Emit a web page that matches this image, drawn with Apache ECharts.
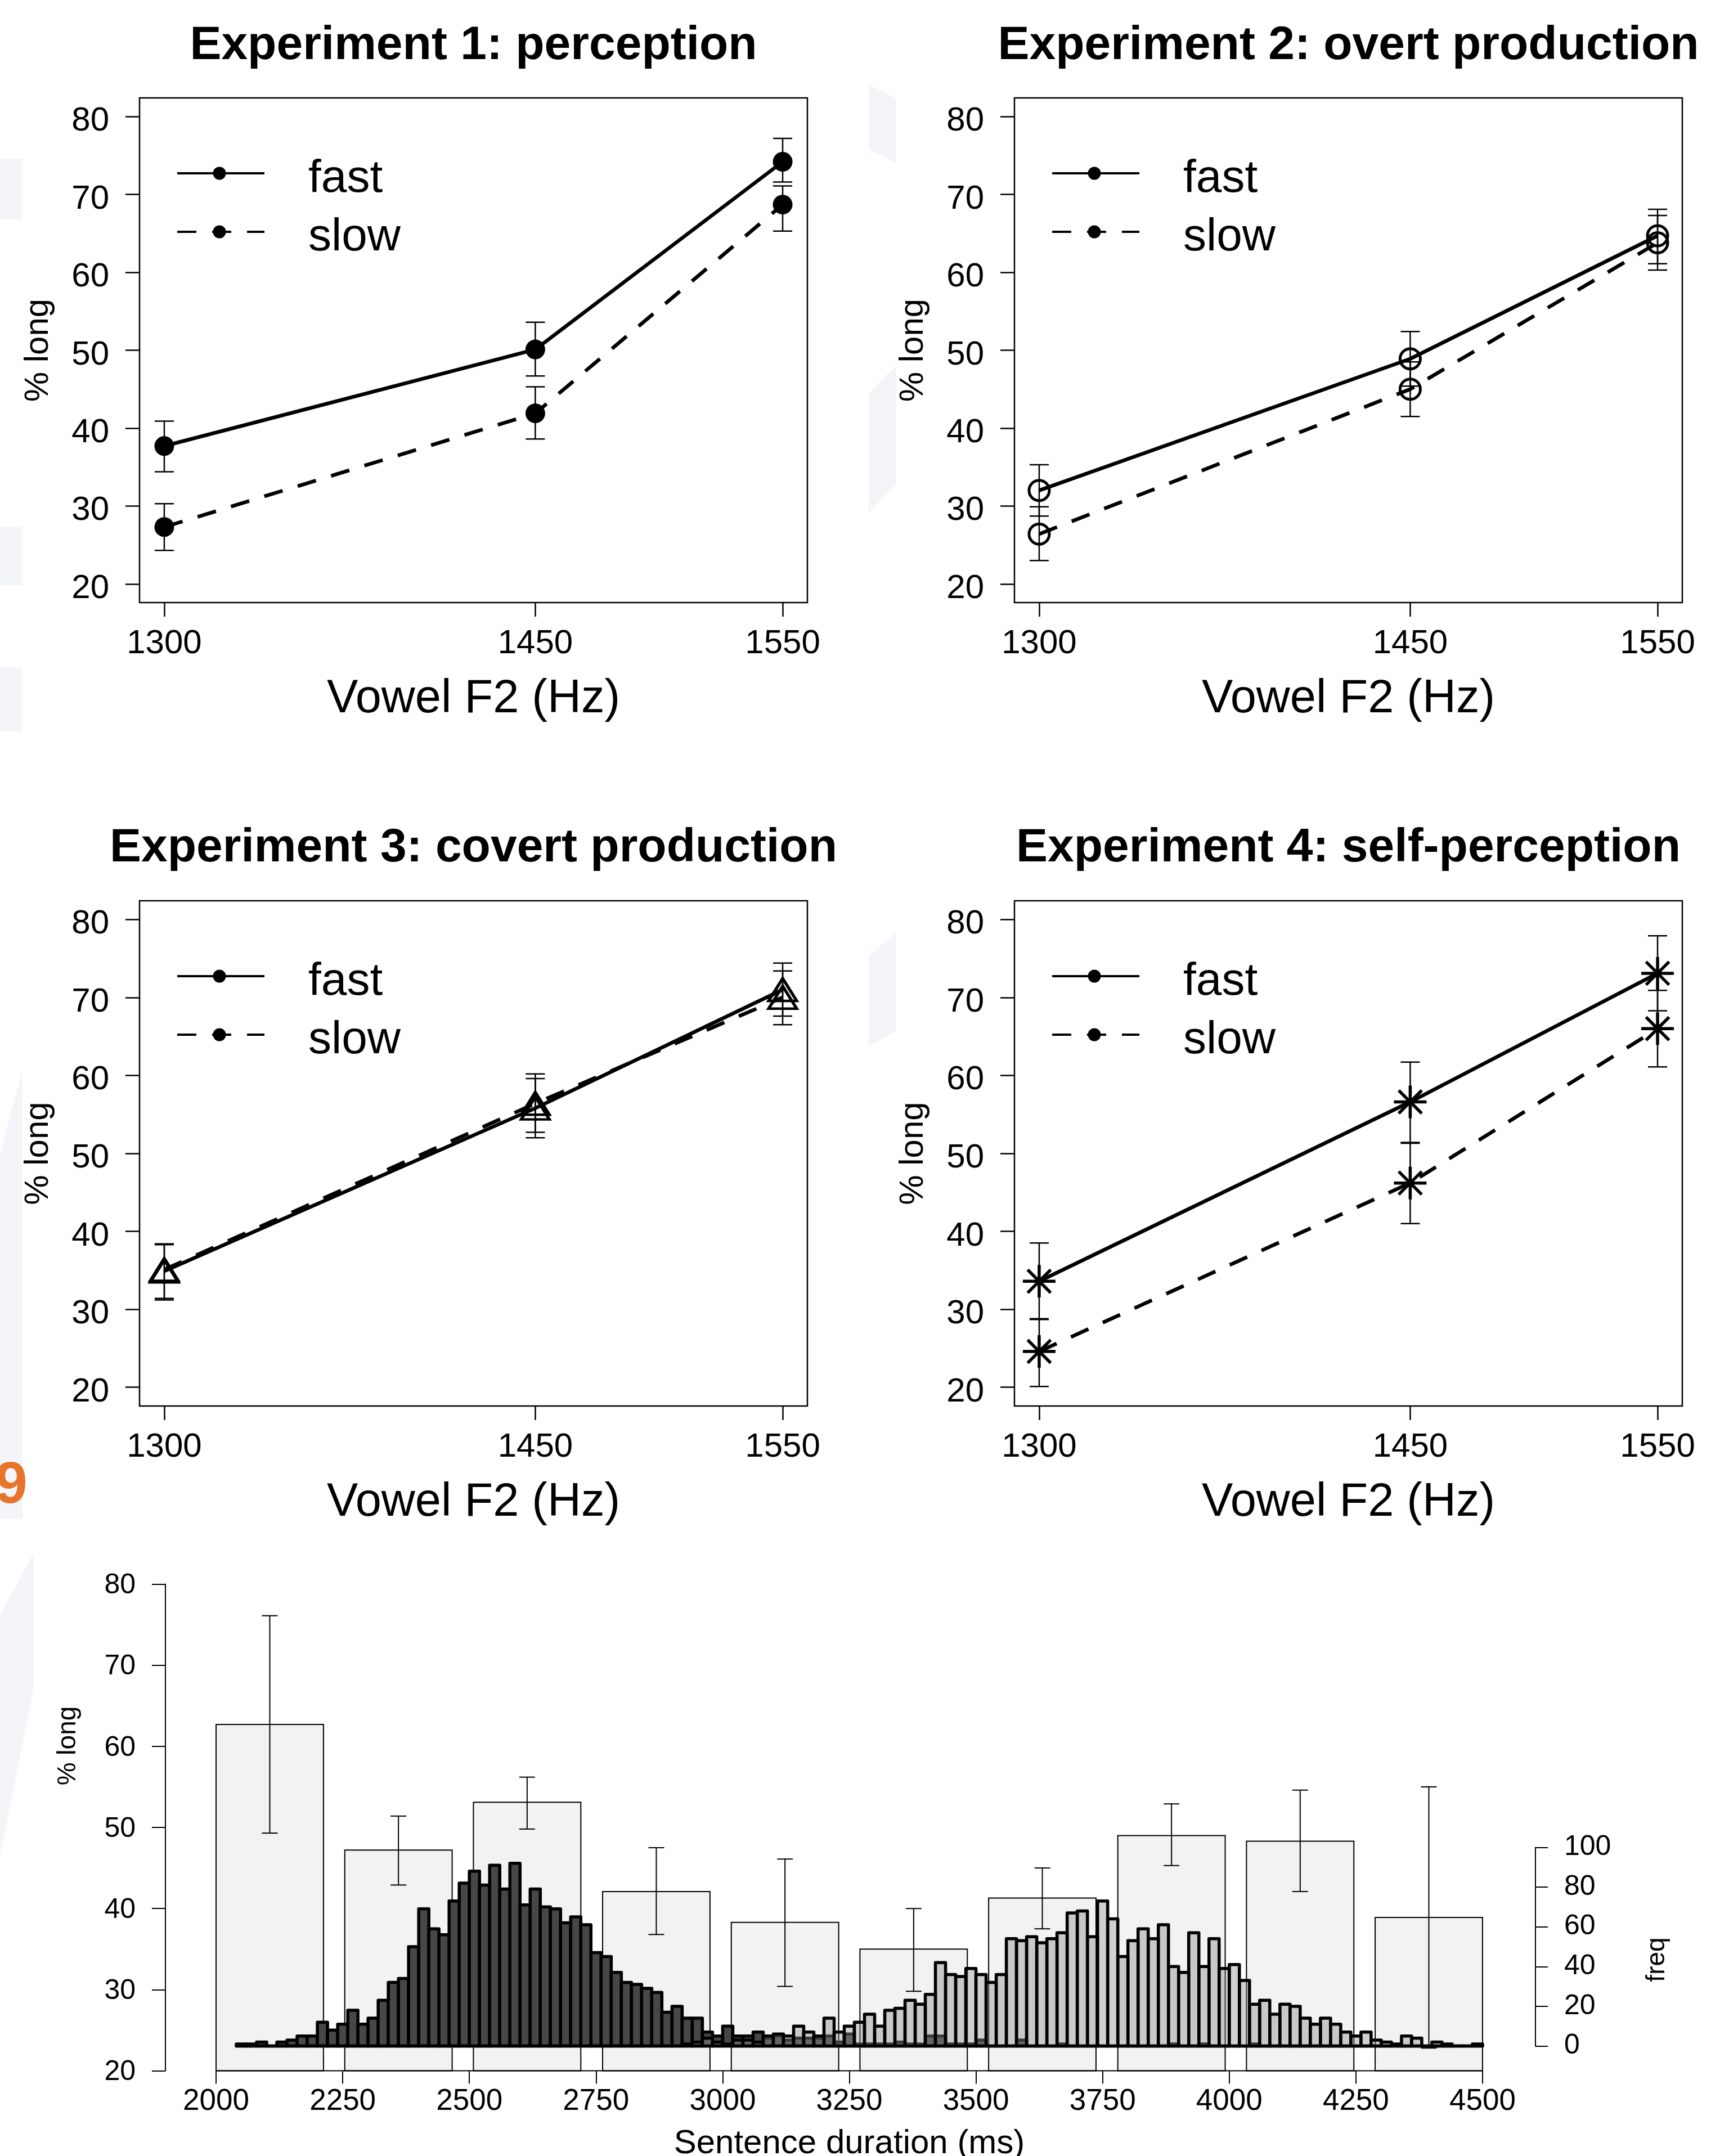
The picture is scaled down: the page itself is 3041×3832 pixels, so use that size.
<!DOCTYPE html>
<html><head><meta charset="utf-8">
<script src="https://cdn.jsdelivr.net/npm/echarts@6/dist/echarts.min.js"></script>
<style>html,body{margin:0;padding:0;background:#fff}#c{width:3041px;height:3832px}</style>
</head><body><div id="c"></div>
<script>
// ---------------- data ----------------
const f2Hz = [1300, 1450, 1550];
const f2Ticks = [1300, 1450, 1550];
const pctTicks = [20, 30, 40, 50, 60, 70, 80];
const panelTitles = ['Experiment 1: perception', 'Experiment 2: overt production',
                     'Experiment 3: covert production', 'Experiment 4: self-perception'];
const legendLabels = ['fast', 'slow'];

const exp1FastMean = [37.7, 50.1, 74.2];
const exp1FastLo   = [34.4, 46.7, 71.6];
const exp1FastHi   = [40.9, 53.6, 77.2];
const exp1SlowMean = [27.3, 41.9, 68.7];
const exp1SlowLo   = [24.3, 38.6, 65.3];
const exp1SlowHi   = [30.3, 45.3, 71.1];

const exp2FastMean = [32.0, 48.9, 64.7];
const exp2FastLo   = [28.7, 45.4, 61.1];
const exp2FastHi   = [35.3, 52.4, 68.1];
const exp2SlowMean = [26.4, 45.0, 63.8];
const exp2SlowLo   = [23.0, 41.5, 60.3];
const exp2SlowHi   = [29.9, 48.5, 67.3];

const exp3FastMean = [34.9, 55.8, 71.0];
const exp3FastLo   = [31.4, 52.0, 67.6];
const exp3FastHi   = [38.4, 59.6, 74.4];
const exp3SlowMean = [35.1, 56.4, 70.0];
const exp3SlowLo   = [31.2, 52.7, 66.5];
const exp3SlowHi   = [38.3, 60.2, 73.4];

const exp4FastMean = [33.6, 56.6, 73.1];
const exp4FastLo   = [28.8, 51.4, 68.3];
const exp4FastHi   = [38.5, 61.7, 77.9];
const exp4SlowMean = [24.6, 46.2, 66.0];
const exp4SlowLo   = [20.1, 41.0, 61.1];
const exp4SlowHi   = [28.7, 51.3, 70.9];

// bottom panel
const durTicks = [2000, 2250, 2500, 2750, 3000, 3250, 3500, 3750, 4000, 4250, 4500];
const durBarCenters = [2106, 2360, 2614, 2869, 3123, 3377, 3631, 3886, 4140, 4394];
const pctLongMean = [62.7, 47.2, 53.1, 42.1, 38.3, 35.0, 41.3, 49.0, 48.3, 38.9];
const pctLongLo   = [49.3, 42.9, 49.8, 36.8, 30.4, 29.8, 37.5, 45.3, 42.1, 22.8];
const pctLongHi   = [76.1, 51.4, 56.2, 47.5, 46.1, 40.0, 45.0, 52.9, 54.6, 55.0];
const freqTicks = [0, 20, 40, 60, 80, 100];
const histStart = 2040;
const histBinWidth = 20;
const fastCounts = [
  1,1,2,0,2,3,5,5,
  12,8,11,18,11,14,23,32,34,50,
  69,59,56,73,82,88,81,91,79,92,
  71,79,70,69,62,65,61,47,45,37,
  32,31,29,27,17,20,14,14,7,5,
  10,5,5,7,4,5,3,4,4,4,
  5,2,6,1,1,1,1,2,1,1,
  5,5,1,1,1,3,0,0,0,3,
  0,0,0,1,0,0,0,0,0,0,
  0,0,0,0,1,0,0,1,0,0,
  0,0,1,0,0,0,0,0,0,0,
  0,0,0,0,0,0,0,0,0,0,
  0,0,0,0,0
];
const slowCounts = [
  0,0,0,0,0,0,0,0,
  0,0,0,0,0,0,0,0,0,0,
  0,0,0,0,0,0,0,0,0,0,
  0,0,0,0,0,0,0,0,0,0,
  0,0,0,0,0,0,1,2,4,2,
  1,3,3,2,5,6,5,10,7,5,
  14,7,10,12,16,10,18,19,23,21,
  26,42,36,35,39,36,32,36,54,53,
  55,52,54,57,67,68,55,73,64,45,
  53,59,54,61,40,37,57,40,54,39,
  41,33,21,23,16,21,20,14,11,14,
  11,7,5,7,3,2,1,5,4,0,
  2,1,0,0,1
];

// ---------------- layout / style ----------------
const FONT = '"Liberation Sans", Arial, Helvetica, sans-serif';
const PW = 1187, PH = 897;
const PANELS = [{l:248,t:174},{l:1803,t:174},{l:248,t:1601},{l:1803,t:1601}];
const TITLE_Y = [82, 82, 1508, 1508];
const BAR_W = 212;           // ms, width of % long bars
const DASH = [34, 28];
const plain = v => String(v);

const chart = echarts.init(document.getElementById('c'), null, {renderer:'canvas'});

const panelData = [
  {fast:[exp1FastMean,exp1FastLo,exp1FastHi], slow:[exp1SlowMean,exp1SlowLo,exp1SlowHi]},
  {fast:[exp2FastMean,exp2FastLo,exp2FastHi], slow:[exp2SlowMean,exp2SlowLo,exp2SlowHi]},
  {fast:[exp3FastMean,exp3FastLo,exp3FastHi], slow:[exp3SlowMean,exp3SlowLo,exp3SlowHi]},
  {fast:[exp4FastMean,exp4FastLo,exp4FastHi], slow:[exp4SlowMean,exp4SlowLo,exp4SlowHi]}
];

const ASTER = 'path://M10,0L10,20M0,10L20,10M2.93,2.93L17.07,17.07M2.93,17.07L17.07,2.93';
const markerStyles = [
  {symbol:'circle', size:35, item:{color:'#000', borderWidth:0}},
  {symbol:'circle', size:36, item:{color:'rgba(0,0,0,0)', borderColor:'#000', borderWidth:5}},
  {symbol:'triangle', size:[50,40], item:{color:'rgba(0,0,0,0)', borderColor:'#000', borderWidth:5}},
  {symbol:ASTER, size:58, item:{color:'rgba(0,0,0,0)', borderColor:'#000', borderWidth:5.5}}
];

function errRender(cap, lw) {
  return function (params, api) {
    const x = api.value(0);
    const lo = api.coord([x, api.value(1)]);
    const hi = api.coord([x, api.value(2)]);
    const st = {stroke:'#000', lineWidth:lw};
    return {type:'group', children:[
      {type:'line', shape:{x1:lo[0], y1:lo[1], x2:hi[0], y2:hi[1]}, style:st},
      {type:'line', shape:{x1:lo[0]-cap, y1:lo[1], x2:lo[0]+cap, y2:lo[1]}, style:st},
      {type:'line', shape:{x1:hi[0]-cap, y1:hi[1], x2:hi[0]+cap, y2:hi[1]}, style:st}
    ]};
  };
}

const grids = [], xAxes = [], yAxes = [], series = [], graphics = [];

PANELS.forEach((p, i) => {
  grids.push({left:p.l, top:p.t, width:PW, height:(i<2?PH:PH+1), show:true, containLabel:false,
              outerBoundsMode:'none',
              borderColor:'#000', borderWidth:2.5, backgroundColor:'rgba(0,0,0,0)'});
  xAxes.push({type:'value', gridIndex:i, min:1290, max:1560,
    axisLine:{show:false}, splitLine:{show:false},
    axisTick:{show:true, customValues:f2Ticks, length:25, lineStyle:{color:'#000', width:2.5}},
    axisLabel:{customValues:f2Ticks, formatter:plain, fontSize:60, fontFamily:FONT, color:'#000',
               margin:73, verticalAlign:'middle'},
    name:'Vowel F2 (Hz)', nameLocation:'middle', nameGap:172,
    nameTextStyle:{fontSize:83, fontFamily:FONT, color:'#000', verticalAlign:'middle'}});
  yAxes.push({type:'value', gridIndex:i, min:17.6, max:82.4,
    axisLine:{show:false}, splitLine:{show:false},
    axisTick:{show:true, customValues:pctTicks, length:25, lineStyle:{color:'#000', width:2.5}},
    axisLabel:{customValues:pctTicks, formatter:plain, fontSize:60, fontFamily:FONT, color:'#000',
               margin:54, verticalAlign:'top', lineHeight:17},
    name:'% long', nameLocation:'middle', nameGap:180,
    nameTextStyle:{fontSize:60, fontFamily:FONT, color:'#000', verticalAlign:'middle'}});

  const d = panelData[i], m = markerStyles[i];
  ['fast','slow'].forEach((k, j) => {
    series.push({type:'line', xAxisIndex:i, yAxisIndex:i, name:legendLabels[j],
      data:f2Hz.map((x, n) => [x, d[k][0][n]]),
      symbol:m.symbol, symbolSize:m.size, showSymbol:true, itemStyle:m.item,
      lineStyle:{color:'#000', width:6.5, type:(j===0?'solid':DASH), cap:'butt'},
      animation:false, silent:true, z:3});
  });
  series.push({type:'custom', xAxisIndex:i, yAxisIndex:i,
    data:[].concat(f2Hz.map((x,n)=>[x, d.fast[1][n], d.fast[2][n]]),
                   f2Hz.map((x,n)=>[x, d.slow[1][n], d.slow[2][n]])),
    renderItem:errRender(17, 2.5), animation:false, silent:true, z:4});

  // panel title
  graphics.push({type:'text', x:p.l + PW/2, y:TITLE_Y[i], z:10,
    style:{text:panelTitles[i], fontSize:84, fontWeight:'bold', fontFamily:FONT, fill:'#000',
           align:'center', verticalAlign:'middle'}});
  // legend
  const ly = [p.t + 134, p.t + 238];
  ly.forEach((yy, j) => {
    graphics.push({type:'line', z:10, shape:{x1:p.l+67, y1:yy, x2:p.l+222, y2:yy},
      style:{stroke:'#000', lineWidth:4, lineDash:(j===0?null:DASH), lineCap:'butt'}});
    graphics.push({type:'circle', z:11, shape:{cx:p.l+142, cy:yy, r:11.5}, style:{fill:'#000'}});
    graphics.push({type:'text', z:10, x:p.l+300, y:yy+10,
      style:{text:legendLabels[j], fontSize:82, fontFamily:FONT, fill:'#000', align:'left', verticalAlign:'middle'}});
  });
});

// ---------- bottom panel ----------
const GB = 4, GH = 5;
grids.push({left:294, top:2815.5, width:2431, height:865, show:false, containLabel:false, outerBoundsMode:'none'});
grids.push({left:294, top:3283.4, width:2431, height:353.1, show:false, containLabel:false, outerBoundsMode:'none'});
xAxes.push({type:'value', gridIndex:GB, min:1900, max:4600,
  axisLine:{show:false}, splitLine:{show:false},
  axisTick:{show:true, customValues:durTicks, length:23, lineStyle:{color:'#000', width:2}},
  axisLabel:{customValues:durTicks, formatter:plain, fontSize:53, fontFamily:FONT, color:'#000',
             margin:55, verticalAlign:'middle'},
  name:'Sentence duration (ms)', nameLocation:'middle', nameGap:130,
  nameTextStyle:{fontSize:60, fontFamily:FONT, color:'#000', verticalAlign:'middle'}});
yAxes.push({type:'value', gridIndex:GB, min:20, max:80, interval:10,
  axisLine:{show:true, lineStyle:{color:'#000', width:2}}, splitLine:{show:false},
  axisTick:{show:true, length:24, lineStyle:{color:'#000', width:2}},
  axisLabel:{formatter:plain, fontSize:50, fontFamily:FONT, color:'#000', margin:53,
             verticalAlign:'top', lineHeight:6}});
xAxes.push({type:'value', gridIndex:GH, min:1900, max:4600, show:false});
yAxes.push({type:'value', gridIndex:GH, min:0, max:100, interval:20, position:'right', offset:4,
  axisLine:{show:true, lineStyle:{color:'#000', width:2}}, splitLine:{show:false},
  axisTick:{show:true, length:22, lineStyle:{color:'#000', width:2}},
  axisLabel:{formatter:plain, fontSize:50, fontFamily:FONT, color:'#000', margin:51}});

// % long bars
series.push({type:'custom', xAxisIndex:GB, yAxisIndex:GB,
  data:durBarCenters.map((c, n) => [c, pctLongMean[n]]),
  renderItem:function (params, api) {
    const c = api.value(0), v = api.value(1);
    const a = api.coord([c - BAR_W/2, v]), b = api.coord([c + BAR_W/2, 20]);
    return {type:'rect', shape:{x:a[0], y:a[1], width:b[0]-a[0], height:b[1]-a[1]},
            style:{fill:'#f2f2f2', stroke:'#000', lineWidth:2}};
  }, animation:false, silent:true, z:2});
// x axis line 2000-4500
series.push({type:'line', xAxisIndex:GB, yAxisIndex:GB, data:[[durTicks[0],20],[durTicks[durTicks.length-1],20]],
  symbol:'none', lineStyle:{color:'#000', width:2}, clip:false, animation:false, silent:true, z:2});
// error bars
series.push({type:'custom', xAxisIndex:GB, yAxisIndex:GB,
  data:durBarCenters.map((c, n) => [c, pctLongLo[n], pctLongHi[n]]),
  renderItem:errRender(14, 2), animation:false, silent:true, z:2});

function histRender(fill) {
  return function (params, api) {
    const x0 = api.value(0), cnt = api.value(1);
    const a = api.coord([x0, cnt]), b = api.coord([x0 + histBinWidth, 0]);
    return {type:'rect', shape:{x:a[0], y:a[1], width:b[0]-a[0], height:b[1]-a[1]},
            style:{fill:fill, stroke:'#000', lineWidth:5.5, lineJoin:'round'}};
  };
}
series.push({type:'custom', xAxisIndex:GH, yAxisIndex:GH,
  data:fastCounts.map((c, n) => [histStart + n*histBinWidth, c]),
  renderItem:histRender('#474747'), animation:false, silent:true, z:3});
series.push({type:'custom', xAxisIndex:GH, yAxisIndex:GH,
  data:slowCounts.map((c, n) => [histStart + n*histBinWidth, c]),
  renderItem:histRender('rgba(144,144,144,0.42)'), animation:false, silent:true, z:3});

graphics.push({type:'text', x:121, y:3103, rotation:Math.PI/2, z:10,
  style:{text:'% long', fontSize:46, fontFamily:FONT, fill:'#000', align:'center', verticalAlign:'middle'}});
graphics.push({type:'text', x:2945, y:3483, rotation:Math.PI/2, z:10,
  style:{text:'freq', fontSize:46, fontFamily:FONT, fill:'#000', align:'center', verticalAlign:'middle'}});
graphics.push({type:'text', x:-9, y:2642, z:10,
  style:{text:'9', fontSize:104, fontWeight:'bold', fontFamily:FONT, fill:'#e8742c', align:'left', verticalAlign:'middle'}});

// faint background watermark fragments
const WM = '#f3f5f8';
[[0,282,39,108],[0,937,39,103],[0,1186,39,114]].forEach(r => {
  graphics.push({type:'rect', z:-10, shape:{x:r[0], y:r[1], width:r[2], height:r[3]}, style:{fill:WM}});
});
graphics.push({type:'polygon', z:-10, shape:{points:[[1544,150],[1593,175],[1593,290],[1544,265]]}, style:{fill:WM}});
graphics.push({type:'polygon', z:-10, shape:{points:[[1544,700],[1593,650],[1593,860],[1544,912]]}, style:{fill:WM}});
graphics.push({type:'polygon', z:-10, shape:{points:[[1544,1700],[1593,1657],[1593,1831],[1544,1860]]}, style:{fill:WM}});
graphics.push({type:'polygon', z:-10, shape:{points:[[0,2050],[40,1900],[40,2700],[0,2700]]}, style:{fill:WM}});
graphics.push({type:'polygon', z:-10, shape:{points:[[0,2870],[60,2760],[60,3000],[0,3300]]}, style:{fill:WM}});

chart.setOption({
  animation:false,
  backgroundColor:'#ffffff',
  grid:grids, xAxis:xAxes, yAxis:yAxes, series:series,
  graphic:{elements:graphics}
});
</script>
</body></html>
